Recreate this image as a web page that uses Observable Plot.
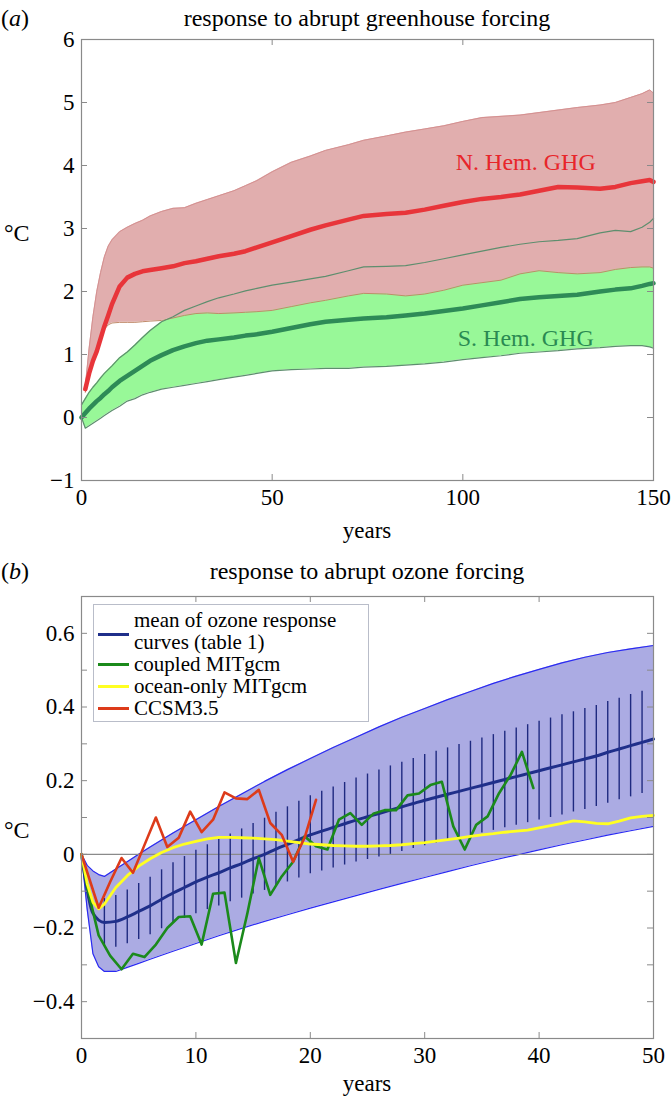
<!DOCTYPE html>
<html><head><meta charset="utf-8">
<script src="https://cdn.jsdelivr.net/npm/d3@7"></script>
<script src="https://cdn.jsdelivr.net/npm/@observablehq/plot@0.6"></script>
<style>
body{margin:0;background:#fff}
#fig{position:relative;width:671px;height:1096px;font-family:'Liberation Serif','Times New Roman',serif;color:#000;overflow:hidden}
.lbl{position:absolute;white-space:nowrap;line-height:1}
.c{transform:translate(-50%,-50%)}
.l{transform:translateY(-50%)}
#fig svg{position:absolute;left:0}
.leg{position:absolute;left:93px;top:604px;width:276px;height:118px;border:1px solid #b9bdc9;background:#fff;box-sizing:border-box}
.sw{position:absolute;left:4px;width:31px;height:2.5px}
.lt{position:absolute;left:40px;font-size:21px;line-height:1;transform:translateY(-50%);white-space:nowrap}
</style></head>
<body>
<div id="fig">
  <div class="lbl l" style="left:1px;top:18px;font-size:24px">(<i>a</i>)</div>
  <div class="lbl c" style="left:367px;top:18px;font-size:24px">response to abrupt greenhouse forcing</div>
  <div class="lbl l" style="left:4px;top:233px;font-size:24px">°C</div>
  <div class="lbl c" style="left:367px;top:530px;font-size:23px">years</div>
  <div class="lbl l" style="left:1px;top:571px;font-size:24px">(<i>b</i>)</div>
  <div class="lbl c" style="left:367px;top:571px;font-size:24px">response to abrupt ozone forcing</div>
  <div class="lbl l" style="left:4px;top:830px;font-size:24px">°C</div>
  <div class="lbl c" style="left:367px;top:1083px;font-size:23px">years</div>
</div>
<script>
// ---------- Panel (a): response to abrupt greenhouse forcing ----------
const YEARS_A = [0,1,2,3,4,5,6,7,8,10,12,14,16,18,21,24,27,30,33,36,40,43,46,50,55,60,64,70,74,80,85,90,95,100,105,110,115,120,125,130,136,140,144,147,149,150];
const NH_UPPER = [null,0.5,1.1,1.6,2.0,2.3,2.55,2.72,2.82,2.95,3.02,3.08,3.13,3.2,3.27,3.32,3.33,3.4,3.46,3.52,3.6,3.68,3.76,3.9,4.05,4.15,4.24,4.33,4.4,4.47,4.53,4.58,4.63,4.7,4.76,4.78,4.8,4.84,4.88,4.92,4.96,5.0,5.08,5.14,5.2,5.15];
const NH_LOWER = [null,0.4,0.65,0.9,1.1,1.28,1.4,1.47,1.5,1.51,1.51,1.51,1.52,1.53,1.54,1.58,1.62,1.65,1.66,1.65,1.66,1.67,1.68,1.7,1.76,1.82,1.86,1.93,1.97,1.96,1.93,1.96,2.02,2.1,2.14,2.18,2.28,2.33,2.3,2.28,2.3,2.35,2.38,2.39,2.39,2.37];
const NH_MEAN = [null,0.45,0.7,0.9,1.05,1.25,1.45,1.62,1.8,2.08,2.22,2.28,2.32,2.34,2.37,2.4,2.45,2.48,2.52,2.56,2.6,2.64,2.7,2.78,2.88,2.98,3.05,3.14,3.2,3.23,3.25,3.3,3.36,3.42,3.47,3.5,3.54,3.6,3.66,3.65,3.63,3.66,3.72,3.75,3.77,3.74];
const SH_UPPER = [0.2,0.3,0.4,0.48,0.55,0.63,0.7,0.76,0.82,0.95,1.04,1.15,1.27,1.38,1.52,1.6,1.7,1.77,1.84,1.9,1.96,2.01,2.05,2.1,2.15,2.2,2.24,2.33,2.39,2.4,2.41,2.46,2.52,2.58,2.64,2.7,2.75,2.79,2.81,2.84,2.93,2.97,2.95,3.02,3.1,3.16];
const SH_LOWER = [0.0,-0.17,-0.13,-0.09,-0.05,-0.01,0.03,0.07,0.11,0.18,0.26,0.3,0.36,0.4,0.45,0.48,0.51,0.54,0.57,0.6,0.64,0.67,0.7,0.74,0.76,0.77,0.78,0.78,0.8,0.81,0.83,0.85,0.88,0.92,0.95,0.98,1.02,1.04,1.06,1.09,1.11,1.13,1.14,1.14,1.12,1.1];
const SH_MEAN = [0.0,0.07,0.14,0.2,0.26,0.31,0.37,0.42,0.48,0.58,0.66,0.74,0.82,0.9,0.99,1.07,1.13,1.18,1.22,1.24,1.27,1.3,1.32,1.36,1.42,1.48,1.52,1.55,1.57,1.59,1.62,1.65,1.69,1.73,1.78,1.83,1.88,1.91,1.93,1.95,2.0,2.03,2.05,2.09,2.12,2.13];
const X_TICKS_A = [0,50,100,150];
const Y_TICKS_A = [-1,0,1,2,3,4,5,6];
const LABELS_A = ["N. Hem. GHG","S. Hem. GHG"];

// ---------- Panel (b): response to abrupt ozone forcing ----------
const YEARS_B = [0,0.5,1,1.5,2,3,4,5,6,8,10,12,14,16,18,20,22,24,26,28,30,32,34,36,38,40,42,44,46,48,50];
const BAND_UPPER = [0,-0.03,-0.045,-0.055,-0.06,-0.04,-0.02,0.0,0.02,0.058,0.094,0.13,0.164,0.198,0.23,0.26,0.29,0.318,0.346,0.372,0.396,0.42,0.442,0.464,0.484,0.502,0.52,0.535,0.548,0.558,0.567];
const BAND_LOWER = [0,-0.15,-0.27,-0.305,-0.318,-0.318,-0.307,-0.296,-0.285,-0.263,-0.242,-0.221,-0.201,-0.182,-0.164,-0.146,-0.129,-0.112,-0.095,-0.079,-0.063,-0.047,-0.031,-0.016,-0.002,0.012,0.026,0.039,0.052,0.064,0.076];
const MEAN_YEARS = d3.range(0, 51);
const MEAN_B = [0,-0.16,-0.185,-0.182,-0.17,-0.155,-0.14,-0.122,-0.105,-0.09,-0.075,-0.062,-0.05,-0.037,-0.025,-0.012,0.0,0.014,0.027,0.04,0.053,0.063,0.073,0.083,0.093,0.102,0.111,0.12,0.129,0.138,0.147,0.155,0.163,0.171,0.179,0.187,0.195,0.203,0.211,0.219,0.227,0.235,0.243,0.251,0.259,0.267,0.277,0.286,0.295,0.304,0.313];
const SPREAD_YEARS = d3.range(2, 50);
const SPREAD_B = [0.065,0.07,0.073,0.076,0.078,0.08,0.082,0.084,0.086,0.088,0.09,0.092,0.094,0.096,0.098,0.1,0.102,0.104,0.106,0.108,0.11,0.112,0.114,0.116,0.118,0.12,0.121,0.122,0.124,0.125,0.126,0.127,0.128,0.129,0.13,0.131,0.132,0.133,0.134,0.135,0.136,0.136,0.137,0.137,0.138,0.138,0.139,0.139];
const COUPLED_YEARS = [0,0.5,1.5,2.5,3.5,4.5,5.5,6.5,7.5,8.5,9.5,10.5,11.5,12.5,13.5,14.5,15.5,16.5,17.5,18.5,19.5,20.5,21.5,22.5,23.5,24.5,25.5,26.5,27.5,28.5,29.5,30.5,31.5,32.5,33.5,34.5,35.5,36.5,37.5,38.5,39.5];
const COUPLED = [0,-0.09,-0.22,-0.275,-0.312,-0.27,-0.279,-0.245,-0.2,-0.17,-0.168,-0.245,-0.107,-0.104,-0.295,-0.16,-0.01,-0.11,-0.06,-0.02,0.049,0.022,0.013,0.094,0.112,0.08,0.11,0.12,0.12,0.16,0.165,0.188,0.197,0.076,0.013,0.08,0.103,0.166,0.215,0.278,0.18];
const OCEAN_YEARS = [0,0.5,1,1.5,2,3,4,5,6,7,8,9,10,11,12,13,14,15,16,17,18,19,20,21,22,23,24,25,26,27,28,29,30,31,32,33,34,35,36,37,38,39,40,41,42,43,44,45,46,47,48,49,50];
const OCEAN = [0,-0.08,-0.13,-0.148,-0.135,-0.09,-0.058,-0.032,-0.012,0.005,0.018,0.028,0.035,0.042,0.046,0.046,0.045,0.044,0.042,0.04,0.036,0.032,0.028,0.026,0.024,0.023,0.022,0.022,0.023,0.024,0.026,0.029,0.032,0.036,0.04,0.044,0.049,0.053,0.056,0.06,0.063,0.066,0.072,0.078,0.084,0.091,0.088,0.084,0.083,0.09,0.099,0.103,0.106];
const CCSM_YEARS = [0,1.5,2.5,3.5,4.5,5.5,6.5,7.5,8.5,9.5,10.5,11.5,12.5,13.5,14.5,15.5,16.5,17.5,18.5,19.5,20.5];
const CCSM = [0,-0.145,-0.075,-0.01,-0.05,0.025,0.1,0.02,0.045,0.116,0.06,0.094,0.168,0.152,0.15,0.175,0.085,0.053,-0.02,0.045,0.148];
const X_TICKS_B = [0,10,20,30,40,50];
const Y_TICKS_B = [-0.5,-0.4,-0.3,-0.2,-0.1,0,0.1,0.2,0.3,0.4,0.5,0.6,0.7];
const Y_LABELS_B = [-0.4,-0.2,0,0.2,0.4,0.6];
const LEGEND_B = ["mean of ozone response", "curves (table 1)", "coupled MITgcm", "ocean-only MITgcm", "CCSM3.5"];

const FONT = "'Liberation Serif','Times New Roman',serif";
const AXIS_GRAY = "#8a8a8a";
const fmt = d => (d < 0 ? "\u2212" : "") + String(Math.abs(+d.toFixed(2)));

function inwardTicks(xt, yt, xd, yd, W, H, len) {
  const lx = len * (xd[1]-xd[0]) / W, ly = len * (yd[1]-yd[0]) / H;
  const xi = xt.filter(d => d > xd[0] && d < xd[1]);
  const yi = yt.filter(d => d > yd[0] && d < yd[1]);
  return [
    Plot.ruleX(xi, {x: d => d, y1: yd[0], y2: yd[0] + ly, stroke: AXIS_GRAY}),
    Plot.ruleX(xi, {x: d => d, y1: yd[1] - ly, y2: yd[1], stroke: AXIS_GRAY}),
    Plot.ruleY(yi, {y: d => d, x1: xd[0], x2: xd[0] + lx, stroke: AXIS_GRAY}),
    Plot.ruleY(yi, {y: d => d, x1: xd[1] - lx, x2: xd[1], stroke: AXIS_GRAY})
  ];
}

const fig = document.getElementById("fig");

// Panel a
{
  const rows = YEARS_A.map((t, i) => ({t, nhHi: NH_UPPER[i], nhLo: NH_LOWER[i], nhM: NH_MEAN[i], shHi: SH_UPPER[i], shLo: SH_LOWER[i], shM: SH_MEAN[i]}));
  const nh = rows.filter(d => d.nhM != null);
  const xd = [0,150], yd = [-1,6];
  const mt = 39, mb = 71, ml = 81, mr = 18, H = 551, W = 671;
  const svg = Plot.plot({
    width: W, height: H, marginTop: mt, marginBottom: mb, marginLeft: ml, marginRight: mr,
    x: {domain: xd}, y: {domain: yd},
    style: {fontFamily: FONT, fontSize: "23px", color: "#000", background: "transparent"},
    marks: [
      Plot.areaY(rows, {x: "t", y1: "shLo", y2: "shHi", fill: "#98f898"}),
      Plot.areaY(nh, {x: "t", y1: "nhLo", y2: "nhHi", fill: "#e1aeae"}),
      Plot.line(nh, {x: "t", y: "nhHi", stroke: "#d49090", strokeWidth: 1}),
      Plot.line(nh, {x: "t", y: "nhLo", stroke: "#c08a6a", strokeWidth: 1}),
      Plot.line(rows, {x: "t", y: "shHi", stroke: "#5e8e6e", strokeWidth: 1.2}),
      Plot.line(rows, {x: "t", y: "shLo", stroke: "#5e8e6e", strokeWidth: 1.2}),
      Plot.line(rows, {x: "t", y: "shM", stroke: "#2e8b57", strokeWidth: 4.5}),
      Plot.line(nh, {x: "t", y: "nhM", stroke: "#e8353a", strokeWidth: 4.5}),
      Plot.text([LABELS_A[0]], {x: 116.5, y: 4.05, text: d => d, fill: "#e8252a", fontSize: 24}),
      Plot.text([LABELS_A[1]], {x: 116.5, y: 1.25, text: d => d, fill: "#2a8a52", fontSize: 24}),
      ...inwardTicks(X_TICKS_A, Y_TICKS_A, xd, yd, W-ml-mr, H-mt-mb, 6),
      Plot.frame({stroke: AXIS_GRAY, strokeWidth: 1.2}),
      Plot.axisX({ticks: X_TICKS_A, tickSize: 0, tickPadding: 8, label: null, fontSize: 23, tickFormat: fmt}),
      Plot.axisY({ticks: Y_TICKS_A, tickSize: 0, tickPadding: 7, label: null, fontSize: 23, tickFormat: fmt})
    ]
  });
  svg.style.top = "0px";
  fig.appendChild(svg);
}

// Panel b
{
  const band = YEARS_B.map((t, i) => ({t, hi: BAND_UPPER[i], lo: BAND_LOWER[i]}));
  const mean = MEAN_YEARS.map((t, i) => ({t, v: MEAN_B[i]}));
  const bars = SPREAD_YEARS.map((t, i) => ({t, lo: MEAN_B[t] - SPREAD_B[i], hi: MEAN_B[t] + SPREAD_B[i]}));
  const coupled = COUPLED_YEARS.map((t, i) => ({t, v: COUPLED[i]}));
  const ocean = OCEAN_YEARS.map((t, i) => ({t, v: OCEAN[i]}));
  const ccsm = CCSM_YEARS.map((t, i) => ({t, v: CCSM[i]}));
  const xd = [0,50], yd = [-0.5,0.7];
  const top = 556, mt = 40, mb = 58, ml = 81, mr = 18, H = 540, W = 671;
  const svg = Plot.plot({
    width: W, height: H, marginTop: mt, marginBottom: mb, marginLeft: ml, marginRight: mr,
    x: {domain: xd}, y: {domain: yd},
    style: {fontFamily: FONT, fontSize: "23px", color: "#000", background: "transparent"},
    marks: [
      Plot.areaY(band, {x: "t", y1: "lo", y2: "hi", fill: "#ababe3"}),
      Plot.line(band, {x: "t", y: "hi", stroke: "#2a2af2", strokeWidth: 1.2}),
      Plot.line(band, {x: "t", y: "lo", stroke: "#2a2af2", strokeWidth: 1.2}),
      Plot.ruleY([0], {stroke: "#8a8a8a", strokeWidth: 1.2}),
      Plot.ruleX(bars, {x: "t", y1: "lo", y2: "hi", stroke: "#1f2a80", strokeWidth: 1.4}),
      Plot.line(mean, {x: "t", y: "v", stroke: "#1f2f8a", strokeWidth: 3, curve: "monotone-x"}),
      Plot.line(coupled, {x: "t", y: "v", stroke: "#1b8a1b", strokeWidth: 2.6}),
      Plot.line(ocean, {x: "t", y: "v", stroke: "#ffff22", strokeWidth: 2.8}),
      Plot.line(ccsm, {x: "t", y: "v", stroke: "#dd3b1a", strokeWidth: 2.6}),
      ...inwardTicks(X_TICKS_B, Y_TICKS_B, xd, yd, W-ml-mr, H-mt-mb, 6),
      Plot.frame({stroke: AXIS_GRAY, strokeWidth: 1.2}),
      Plot.axisX({ticks: X_TICKS_B, tickSize: 0, tickPadding: 8, label: null, fontSize: 23, tickFormat: fmt}),
      Plot.axisY({ticks: Y_LABELS_B, tickSize: 0, tickPadding: 7, label: null, fontSize: 23, tickFormat: fmt})
    ]
  });
  svg.style.top = top + "px";
  fig.appendChild(svg);

  // legend
  const leg = document.createElement("div");
  leg.className = "leg";
  const swColors = ["#1f2f8a", "#1b8a1b", "#ffff22", "#dd3b1a"];
  const swTops = [29, 59, 81, 103];
  const txtTops = [15, 37, 59, 81, 103];
  swColors.forEach((c, i) => {
    const s = document.createElement("div");
    s.className = "sw"; s.style.background = c; s.style.top = (swTops[i] - 1) + "px";
    leg.appendChild(s);
  });
  LEGEND_B.forEach((txt, i) => {
    const t = document.createElement("div");
    t.className = "lt"; t.textContent = txt; t.style.top = txtTops[i] + "px";
    leg.appendChild(t);
  });
  fig.appendChild(leg);
}
</script>
</body></html>
